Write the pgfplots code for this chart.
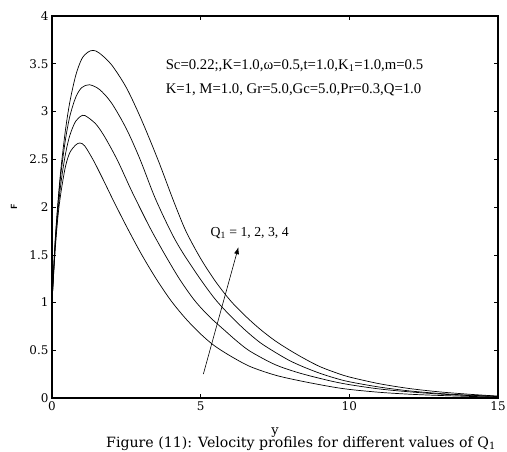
\documentclass[border=0pt]{standalone}
\usepackage{fontspec}
\setmainfont{Liberation Serif}
\newfontfamily\tickfont{DejaVu Serif}
\usepackage{pgfplots}
\pgfplotsset{compat=1.18}
\usetikzlibrary{arrows.meta}
\begin{document}
\begin{tikzpicture}
\begin{axis}[
  scale only axis, width=446bp, height=382bp,
  xmin=0, xmax=15, ymin=0, ymax=4,
  xtick={0,5,10,15}, ytick={0,0.5,1,1.5,2,2.5,3,3.5,4},
  tick align=inside, major tick length=4bp,
  axis line style={line width=1.1pt},
  tick style={black, line width=0.5pt},
  /pgf/number format/assume math mode=true,
  ticklabel style={font=\tickfont\fontsize{12}{13}\selectfont},
  xlabel={y}, xlabel style={font=\tickfont\fontsize{13}{14}\selectfont, at={(axis description cs:0.5,-0.09)}, anchor=center},
  ylabel={\sffamily\bfseries F}, ylabel style={font=\fontsize{9}{10}\selectfont, at={(axis description cs:-0.085,0.5)}, anchor=center},
]
\addplot[black, line width=0.7pt, smooth] coordinates {
(0,1) (0.1,1.52) (0.2,1.9) (0.3,2.15) (0.45,2.42) (0.6,2.57) (0.8,2.65) (0.94,2.67) (1.1,2.64) (1.39,2.49) (1.7,2.3) (2.06,2.07) (2.5,1.8) (3.0,1.51) (3.5,1.25) (4.0,1.02) (4.5,0.83) (5.0,0.67) (5.45,0.55) (6.0,0.44) (6.66,0.33) (7.5,0.24) (8.34,0.18) (9.35,0.12) (10,0.09) (11,0.06) (12,0.04) (13,0.027) (14,0.017) (15,0.01)};
\addplot[black, line width=0.7pt, smooth] coordinates {
(0,1) (0.1,1.55) (0.2,1.95) (0.3,2.25) (0.45,2.55) (0.6,2.75) (0.8,2.9) (1.03,2.96) (1.2,2.94) (1.5,2.86) (1.8,2.72) (2.2,2.49) (2.6,2.22) (2.8,2.09) (3.3,1.78) (3.8,1.5) (4.3,1.24) (4.8,1.02) (5.3,0.85) (5.8,0.71) (6.2,0.6) (6.66,0.49) (7.5,0.35) (8.34,0.26) (9.35,0.18) (10,0.14) (11,0.095) (12,0.065) (13,0.042) (14,0.026) (15,0.015)};
\addplot[black, line width=0.7pt, smooth] coordinates {
(0,1) (0.1,1.6) (0.2,2.02) (0.3,2.35) (0.45,2.7) (0.6,2.95) (0.8,3.15) (1.0,3.25) (1.26,3.28) (1.6,3.23) (2.0,3.09) (2.5,2.82) (2.96,2.5) (3.46,2.1) (4.0,1.74) (4.4,1.52) (5.0,1.24) (5.5,1.03) (6.0,0.86) (6.5,0.71) (7.0,0.58) (7.5,0.48) (8.0,0.39) (8.5,0.32) (9.0,0.26) (9.5,0.21) (10,0.17) (11,0.115) (12,0.075) (13,0.048) (14,0.03) (15,0.018)};
\addplot[black, line width=0.7pt, smooth] coordinates {
(0,1) (0.1,1.62) (0.2,2.05) (0.3,2.4) (0.45,2.8) (0.6,3.1) (0.8,3.38) (1.0,3.55) (1.2,3.62) (1.39,3.64) (1.6,3.61) (2.0,3.49) (2.5,3.25) (3.0,2.92) (3.57,2.49) (4.08,2.07) (4.5,1.75) (5.0,1.46) (5.5,1.22) (6.0,1.02) (6.5,0.86) (7.0,0.72) (7.5,0.6) (8.0,0.5) (8.5,0.41) (9.0,0.33) (9.5,0.27) (10,0.22) (11,0.15) (12,0.1) (13,0.065) (14,0.04) (15,0.02)};
\draw[black, line width=0.6pt, -{Latex[length=7bp,width=5bp]}] (axis cs:5.09,0.25) -- (axis cs:6.27,1.58);
\node[anchor=west, font=\fontsize{13.8}{14}\selectfont, inner sep=0pt] at (axis cs:5.33,1.73) {Q\textsubscript{1} = 1, 2, 3, 4};
\node[anchor=west, font=\fontsize{14.8}{16}\selectfont, inner sep=0pt] at (axis cs:3.82,3.48) {Sc=0.22;,K=1.0,ω=0.5,t=1.0,K\textsubscript{1}=1.0,m=0.5};
\node[anchor=west, font=\fontsize{14.8}{16}\selectfont, inner sep=0pt] at (axis cs:3.82,3.23) {K=1, M=1.0, Gr=5.0,Gc=5.0,Pr=0.3,Q=1.0};
\coordinate (sw) at (axis description cs:0,0);
\end{axis}
\node[font=\tickfont\fontsize{14.2}{15}\selectfont, anchor=base, inner sep=0pt] at ([xshift=249bp,yshift=-49bp]sw) {Figure (11): Velocity profiles for different values of Q\textsubscript{1}};
\pgfresetboundingbox
\useasboundingbox (sw) ++(-52bp,-54bp) rectangle ++(507bp,452bp);
\end{tikzpicture}
\end{document}
